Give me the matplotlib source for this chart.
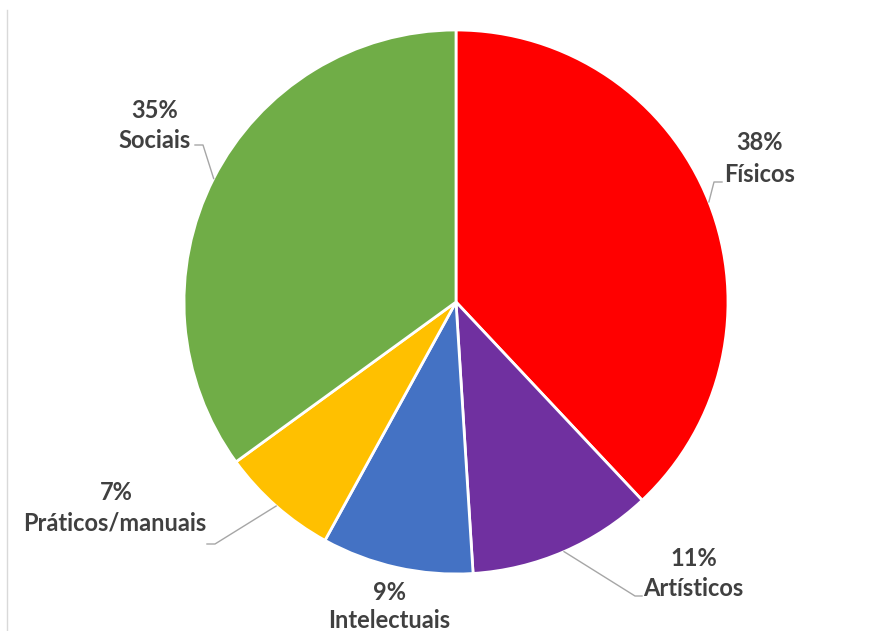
import numpy as np
import matplotlib
matplotlib.use("Agg")
import matplotlib.pyplot as plt

# Datos del gráfico
categorias = ['Físicos', 'Artísticos', 'Intelectuais', 'Práticos/manuais', 'Sociais']
valores = [38, 11, 9, 7, 35]
cores = ['#FF0000', '#7030A0', '#4472C4', '#FFC000', '#70AD47']

W, H = 894, 631
fig = plt.figure(figsize=(W / 100, H / 100), dpi=100)
ax = fig.add_axes([0, 0, 1, 1])
ax.set_xlim(0, W)
ax.set_ylim(0, H)
ax.set_aspect('equal')
ax.axis('off')

cx, cy, r = 456, H - 302, 272
wedges, _ = ax.pie(valores, colors=cores, startangle=90, counterclock=False,
                   center=(cx, cy), radius=r,
                   wedgeprops=dict(edgecolor='white', linewidth=2))
ax.set_xlim(0, W)
ax.set_ylim(0, H)

# borde izquierdo
ax.plot([7, 7], [0, H - 10], color='#D9D9D9', linewidth=1)

txt = dict(ha='center', va='center', fontsize=17, fontweight='bold',
           color='#404040', family=['Lato', 'DejaVu Sans'])

# posiciones de etiquetas (pixeles, y desde arriba): pct, nombre, codo de la línea
etiquetas = {
    'Físicos': ((760, 143), (760, 174), [(714, 182), (722, 182)]),
    'Artísticos': ((694, 558), (693, 588), [(635, 596), (642, 596)]),
    'Intelectuais': ((389, 592), (389, 621), None),
    'Práticos/manuais': ((116, 492), (115, 523), [(215, 544), (207, 544)]),
    'Sociais': ((155, 110), (155, 140), [(203, 145), (195, 145)]),
}

for w, cat, val in zip(wedges, categorias, valores):
    (px, py), (nx, ny), codo = etiquetas[cat]
    ax.text(px, H - py, f'{val}%', **txt)
    ax.text(nx, H - ny, cat, **txt)
    if codo:
        ang = np.deg2rad((w.theta1 + w.theta2) / 2)
        x0 = cx + r * np.cos(ang)
        y0 = cy + r * np.sin(ang)
        xs = [x0] + [p[0] for p in codo]
        ys = [y0] + [H - p[1] for p in codo]
        ax.plot(xs, ys, color='#A6A6A6', linewidth=1)

fig.savefig('out.png', dpi=100, facecolor='white')
